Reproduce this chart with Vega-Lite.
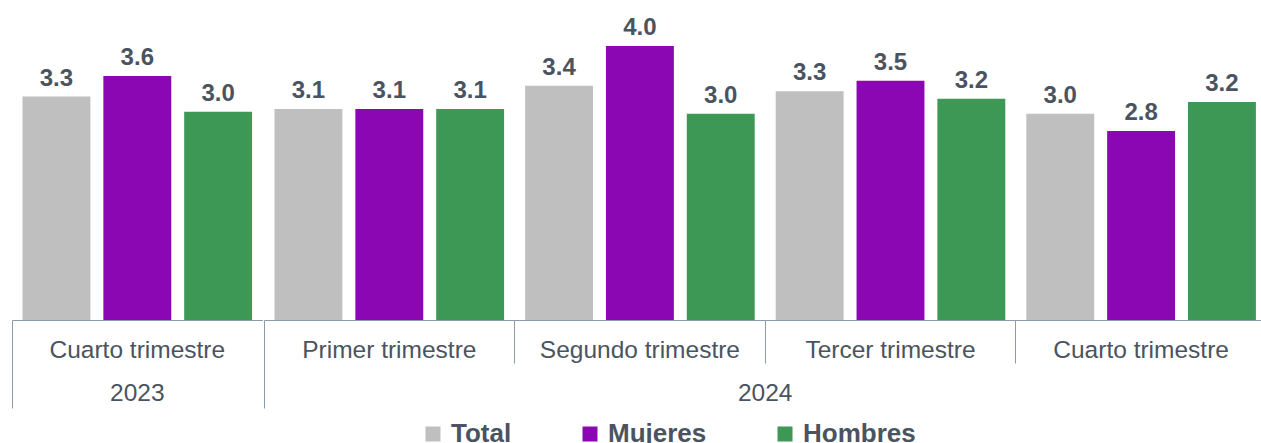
{
  "$schema": "https://vega.github.io/schema/vega-lite/v6.json",
  "padding": {"left": 11, "top": 0, "right": 0, "bottom": 0},
  "background": "white",
  "config": {
    "view": {"stroke": null},
    "font": "Liberation Sans",
    "scale": {"bandPaddingInner": 0, "bandPaddingOuter": 0}
  },
  "data": {
    "values": [
      {"anio": "2023", "trimestre": "Cuarto trimestre", "serie": "Total", "valor": 3.26},
      {"anio": "2023", "trimestre": "Cuarto trimestre", "serie": "Mujeres", "valor": 3.56},
      {"anio": "2023", "trimestre": "Cuarto trimestre", "serie": "Hombres", "valor": 3.04},
      {"anio": "2024", "trimestre": "Primer trimestre", "serie": "Total", "valor": 3.08},
      {"anio": "2024", "trimestre": "Primer trimestre", "serie": "Mujeres", "valor": 3.08},
      {"anio": "2024", "trimestre": "Primer trimestre", "serie": "Hombres", "valor": 3.08},
      {"anio": "2024", "trimestre": "Segundo trimestre", "serie": "Total", "valor": 3.42},
      {"anio": "2024", "trimestre": "Segundo trimestre", "serie": "Mujeres", "valor": 4.0},
      {"anio": "2024", "trimestre": "Segundo trimestre", "serie": "Hombres", "valor": 3.01},
      {"anio": "2024", "trimestre": "Tercer trimestre", "serie": "Total", "valor": 3.34},
      {"anio": "2024", "trimestre": "Tercer trimestre", "serie": "Mujeres", "valor": 3.49},
      {"anio": "2024", "trimestre": "Tercer trimestre", "serie": "Hombres", "valor": 3.23},
      {"anio": "2024", "trimestre": "Cuarto trimestre", "serie": "Total", "valor": 3.01},
      {"anio": "2024", "trimestre": "Cuarto trimestre", "serie": "Mujeres", "valor": 2.76},
      {"anio": "2024", "trimestre": "Cuarto trimestre", "serie": "Hombres", "valor": 3.18}
    ]
  },
  "facet": {
    "column": {
      "field": "anio",
      "type": "nominal",
      "title": null,
      "header": {
        "labelOrient": "bottom",
        "labelFontSize": 24.5,
        "labelColor": "#4A5460",
        "labelFont": "Liberation Sans",
        "labelPadding": -27
      }
    }
  },
  "spacing": 0,
  "resolve": {"scale": {"x": "independent", "xOffset": "independent"}},
  "spec": {
    "width": {"step": 250.6, "for": "position"},
    "height": 320,
    "encoding": {
      "x": {
        "field": "trimestre",
        "type": "nominal",
        "sort": ["Primer trimestre", "Segundo trimestre", "Tercer trimestre", "Cuarto trimestre"],
        "scale": {"paddingInner": 0, "paddingOuter": 0},
        "axis": {
          "title": null,
          "bandPosition": 0,
          "labelAngle": 0,
          "labelFontSize": 24.5,
          "labelColor": "#4A5460",
          "labelFont": "Liberation Sans",
          "labelPadding": -70,
          "labelLimit": 400,
          "labelOverlap": false,
          "labelBound": false,
          "labelFlush": false,
          "domainColor": "#8C9BAA",
          "domainWidth": 1,
          "tickColor": "#8C9BAA",
          "tickWidth": 1,
          "tickSize": 88,
          "tickDash": {"condition": {"test": "datum.index === 0", "value": [88, 0]}, "value": [43, 200]}
        }
      },
      "xOffset": {
        "field": "serie",
        "type": "nominal",
        "sort": ["Total", "Mujeres", "Hombres"],
        "scale": {"paddingInner": 0.16, "paddingOuter": 0.13}
      },
      "y": {
        "field": "valor",
        "type": "quantitative",
        "scale": {"domain": [0, 4.67]},
        "axis": null
      }
    },
    "layer": [
      {
        "mark": {"type": "bar"},
        "encoding": {
          "color": {
            "field": "serie",
            "type": "nominal",
            "sort": ["Total", "Mujeres", "Hombres"],
            "scale": {"domain": ["Total", "Mujeres", "Hombres"], "range": ["#BFBFBF", "#8A07B3", "#3D9755"]},
            "legend": {
              "title": null,
              "orient": "none",
              "legendX": 408,
              "legendY": 421,
              "direction": "horizontal",
              "symbolType": "square",
              "symbolSize": 225,
              "symbolStrokeWidth": 0,
              "symbolOpacity": 1,
              "labelFontSize": 26,
              "labelFontWeight": "bold",
              "labelColor": "#4A5460",
              "labelFont": "Liberation Sans",
              "labelOffset": 5,
              "columnPadding": 65
            }
          }
        }
      },
      {
        "mark": {"type": "text", "baseline": "alphabetic", "dy": -11, "fontSize": 24, "fontWeight": "bold", "color": "#4A5460", "font": "Liberation Sans"},
        "encoding": {
          "text": {"field": "valor", "type": "quantitative", "format": ".1f"}
        }
      }
    ]
  }
}
